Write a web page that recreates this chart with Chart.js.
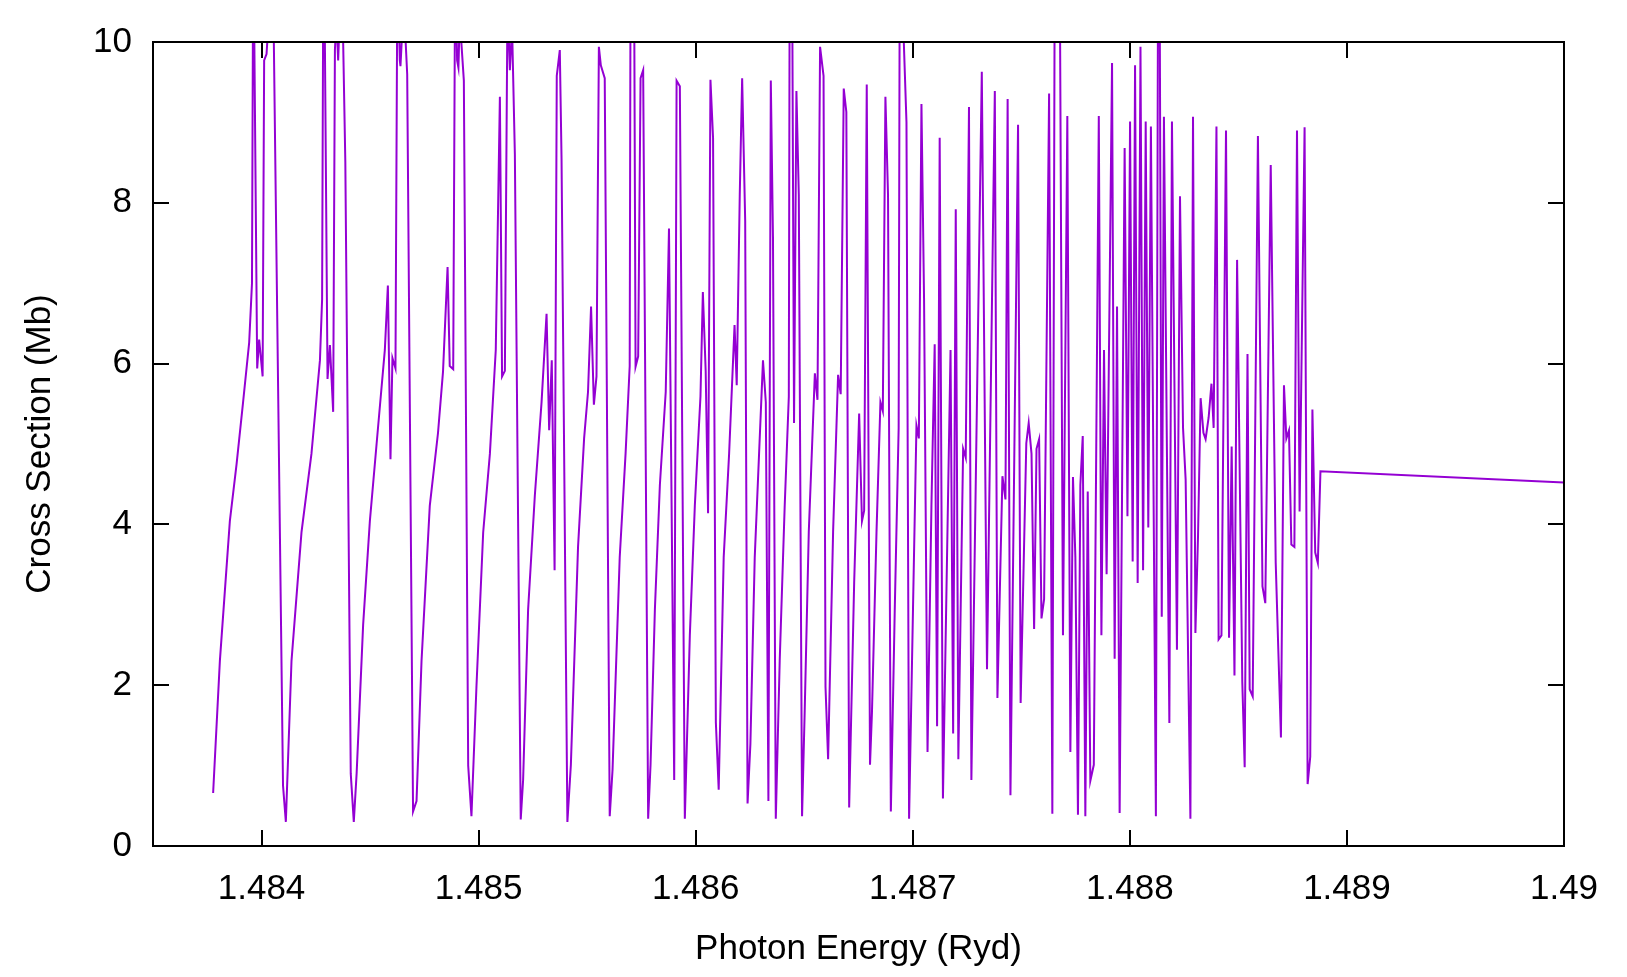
<!DOCTYPE html>
<html>
<head>
<meta charset="utf-8">
<title>Cross Section vs Photon Energy</title>
<script src="https://cdn.jsdelivr.net/npm/chart.js@4.4.1/dist/chart.umd.min.js"></script>
<style>
  html, body { margin: 0; padding: 0; background: #fff; }
  canvas { display: block; }
</style>
</head>
<body>
<canvas id="xsChart" width="1627" height="977"></canvas>
<script>
// ------------------------------------------------------------
// DATA (peaks above 10 run off the top)
// ------------------------------------------------------------
const energy = [
  1.483777, 1.483808, 1.483854, 1.483885, 1.483915, 1.483943, 1.483956, 1.483962, 1.48398, 1.483989,
  1.484005, 1.484012, 1.484023, 1.484038, 1.484053, 1.484099, 1.484112, 1.484138, 1.484184, 1.48423,
  1.484269, 1.484279, 1.484286, 1.484304, 1.484315, 1.48433, 1.484338, 1.484345, 1.484353, 1.484361,
  1.484374, 1.484386, 1.484411, 1.484425, 1.484438, 1.484468, 1.484499, 1.48453, 1.484568, 1.484582,
  1.484594, 1.484603, 1.484617, 1.484626, 1.484637, 1.48464, 1.484655, 1.484671, 1.484698, 1.484714,
  1.484737, 1.484775, 1.484813, 1.484836, 1.484857, 1.484867, 1.484883, 1.484892, 1.484901, 1.484907,
  1.484913, 1.484932, 1.484952, 1.484967, 1.48499, 1.485021, 1.485052, 1.485079, 1.485098, 1.485108,
  1.485121, 1.485133, 1.485144, 1.485154, 1.485167, 1.485194, 1.485205, 1.485228, 1.485259, 1.48529,
  1.485313, 1.485325, 1.485337, 1.48535, 1.48536, 1.485374, 1.485382, 1.485409, 1.485425, 1.485458,
  1.485486, 1.485504, 1.485518, 1.485531, 1.485543, 1.485554, 1.485563, 1.485581, 1.485604, 1.485617,
  1.48565, 1.485677, 1.485696, 1.4857, 1.485716, 1.485723, 1.485735, 1.485746, 1.485758, 1.485781,
  1.485792, 1.485812, 1.485835, 1.485862, 1.485877, 1.485901, 1.485912, 1.485927, 1.48595, 1.485973,
  1.485996, 1.486022, 1.486033, 1.486046, 1.486057, 1.486068, 1.48608, 1.486093, 1.486106, 1.486129,
  1.486154, 1.486169, 1.486179, 1.486189, 1.486203, 1.486214, 1.486228, 1.486239, 1.486252, 1.486272,
  1.486292, 1.48631, 1.486323, 1.486335, 1.486346, 1.486356, 1.486369, 1.486387, 1.48641, 1.486429,
  1.486433, 1.486444, 1.486453, 1.486464, 1.486475, 1.48649, 1.486502, 1.486521, 1.486549, 1.486561,
  1.486573, 1.486589, 1.486598, 1.48661, 1.486633, 1.486656, 1.486668, 1.486682, 1.486694, 1.486707,
  1.48673, 1.486753, 1.486766, 1.486776, 1.486788, 1.486803, 1.486812, 1.486833, 1.486851, 1.486862,
  1.486874, 1.486886, 1.486899, 1.486917, 1.486935, 1.48694, 1.486955, 1.486971, 1.486983, 1.487001,
  1.487017, 1.487028, 1.48704, 1.487052, 1.487068, 1.487086, 1.487101, 1.487112, 1.487124, 1.487139,
  1.487174, 1.487186, 1.487198, 1.48721, 1.487232, 1.487244, 1.487259, 1.48727, 1.487318, 1.487342,
  1.487378, 1.48739, 1.487413, 1.487427, 1.487437, 1.48745, 1.487485, 1.487497, 1.487523, 1.487534,
  1.487547, 1.487559, 1.48757, 1.487582, 1.487593, 1.487605, 1.487628, 1.487643, 1.487654, 1.487677,
  1.487692, 1.487712, 1.487726, 1.487738, 1.487749, 1.487761, 1.487772, 1.487783, 1.487795, 1.487806,
  1.487818, 1.487834, 1.487857, 1.487869, 1.487881, 1.487893, 1.487918, 1.48793, 1.487941, 1.487953,
  1.487976, 1.487989, 1.488001, 1.488013, 1.488024, 1.488036, 1.488049, 1.488061, 1.488073, 1.488085,
  1.488097, 1.48812, 1.48813, 1.488137, 1.488147, 1.488157, 1.488182, 1.488194, 1.488217, 1.488231,
  1.488245, 1.488257, 1.488279, 1.488291, 1.488302, 1.488314, 1.488326, 1.488339, 1.488349, 1.488363,
  1.488376, 1.488386, 1.488399, 1.488409, 1.488422, 1.488443, 1.488457, 1.488469, 1.488482, 1.488494,
  1.488518, 1.488529, 1.488542, 1.488552, 1.488566, 1.48859, 1.488611, 1.488624, 1.488649, 1.488672,
  1.488696, 1.48871, 1.488721, 1.488733, 1.488744, 1.488758, 1.48877, 1.488782, 1.488805, 1.488819,
  1.488831, 1.488841, 1.488854, 1.488866, 1.488878, 1.49
];

const crossSection = [
  0.66, 2.3, 4.04, 4.75, 5.52, 6.26, 7.0, 11.5, 5.94, 6.3,
  5.84, 9.77, 9.85, 10.5, 10.8, 0.75, 0.3, 2.3, 3.9, 4.88,
  6.04, 6.8, 12, 5.81, 6.23, 5.4, 9.9, 10.3, 9.77, 10.4,
  10.3, 8.5, 0.9, 0.3, 0.9, 2.75, 4.04, 5.0, 6.17, 6.97,
  4.81, 6.07, 5.94, 11, 9.77, 9.7, 10.5, 9.6, 0.43, 0.56,
  2.3, 4.23, 5.14, 5.9, 7.2, 5.97, 5.93, 11, 9.77, 9.68,
  10.3, 9.52, 1.0, 0.37, 1.98, 3.9, 4.88, 6.17, 9.32, 5.84,
  5.91, 10.5, 9.65, 10.2, 8.6, 0.33, 0.82, 2.94, 4.36, 5.52,
  6.62, 5.17, 6.04, 3.43, 9.58, 9.9, 8.55, 0.3, 1.01, 3.72,
  5.07, 5.65, 6.71, 5.49, 5.84, 9.94, 9.71, 9.55, 0.37, 0.95,
  3.59, 4.88, 5.97, 11, 11, 5.96, 6.09, 9.55, 9.65, 0.34,
  1.01, 2.94, 4.49, 5.65, 7.68, 0.82, 9.52, 9.45, 0.34, 2.62,
  4.23, 5.59, 6.89, 5.91, 4.14, 9.53, 8.81, 1.53, 0.7, 3.59,
  4.88, 5.84, 6.48, 5.73, 8.1, 9.55, 7.78, 0.53, 1.27, 3.59,
  4.88, 6.04, 5.52, 0.56, 9.52, 7.58, 0.34, 2.3, 4.23, 5.59,
  11, 11, 5.26, 9.39, 8.1, 0.37, 1.66, 3.91, 5.88, 5.55,
  9.94, 9.58, 1.98, 1.08, 3.91, 5.86, 5.62, 9.42, 9.13, 0.48,
  3.27, 5.38, 4.04, 4.17, 9.47, 1.01, 1.66, 3.91, 5.52, 5.41,
  9.32, 8.1, 0.43, 2.94, 5.2, 11, 10.3, 9.0, 0.34, 2.94,
  5.23, 5.07, 9.23, 6.81, 1.17, 4.23, 6.24, 1.49, 8.81, 0.59,
  6.17, 1.4, 7.92, 1.08, 4.94, 4.83, 9.19, 0.82, 9.63, 2.2,
  9.39, 1.84, 4.6, 4.31, 9.29, 0.63, 8.97, 1.78, 5.01, 5.26,
  4.88, 2.7, 4.94, 5.06, 2.83, 3.07, 9.36, 0.4, 11, 11,
  2.62, 9.08, 1.17, 4.59, 3.59, 0.39, 4.49, 5.1, 0.37, 4.41,
  0.81, 1.01, 9.08, 2.62, 6.17, 3.38, 9.74, 2.33, 6.71, 0.41,
  8.68, 4.1, 9.01, 3.54, 9.71, 3.27, 9.94, 3.43, 9.01, 3.96,
  8.95, 0.37, 11, 11, 2.85, 9.07, 1.53, 9.01, 2.44, 8.08,
  5.2, 4.56, 0.34, 9.07, 2.65, 3.85, 5.57, 5.14, 5.06, 5.33,
  5.75, 5.2, 8.95, 2.57, 2.62, 8.9, 2.59, 4.97, 2.12, 7.29,
  2.04, 0.98, 6.12, 1.95, 1.86, 8.83, 3.23, 3.02, 8.47, 3.52,
  1.35, 5.73, 5.07, 5.17, 3.75, 3.72, 8.9, 4.16, 8.94, 0.77,
  1.11, 5.43, 3.65, 3.52, 4.66, 4.52
];

const xTickValues = [1.484, 1.485, 1.486, 1.487, 1.488, 1.489, 1.49];
const yTickValues = [0, 2, 4, 6, 8, 10];

const X_MIN = 1.4835;
const X_MAX = 1.49;
const Y_MIN = 0;
const Y_MAX = 10;

const LINE_COLOR = '#9400d3';
const FONT = { family: "'Liberation Sans', Arial, sans-serif", size: 35 };

// ------------------------------------------------------------
// gnuplot-style border with inward (mirrored) tick marks
// ------------------------------------------------------------
const frameAndTicks = {
  id: 'frameAndTicks',
  afterDraw(chart) {
    const { ctx, chartArea: a, scales } = chart;
    const len = 16;
    ctx.save();
    ctx.strokeStyle = '#000';
    ctx.lineWidth = 2;
    ctx.beginPath();
    xTickValues.forEach(v => {
      const px = Math.round(scales.x.getPixelForValue(v));
      ctx.moveTo(px, a.bottom); ctx.lineTo(px, a.bottom - len);
      ctx.moveTo(px, a.top);    ctx.lineTo(px, a.top + len);
    });
    yTickValues.forEach(v => {
      const py = Math.round(scales.y.getPixelForValue(v));
      ctx.moveTo(a.left, py);  ctx.lineTo(a.left + len, py);
      ctx.moveTo(a.right, py); ctx.lineTo(a.right - len, py);
    });
    ctx.stroke();
    ctx.strokeRect(a.left, a.top, a.right - a.left, a.bottom - a.top);
    ctx.restore();
  }
};

const points = energy.map((e, i) => ({ x: e, y: crossSection[i] }));

new Chart(document.getElementById('xsChart'), {
  type: 'line',
  data: {
    datasets: [{
      data: points,
      borderColor: LINE_COLOR,
      borderWidth: 2,
      pointRadius: 0,
      tension: 0,
      fill: false
    }]
  },
  options: {
    responsive: false,
    animation: false,
    devicePixelRatio: 1,
    layout: { padding: { top: 42, right: 63, left: 0, bottom: 0 } },
    plugins: {
      legend: { display: false },
      tooltip: { enabled: false }
    },
    scales: {
      x: {
        type: 'linear',
        min: X_MIN,
        max: X_MAX,
        afterBuildTicks: scale => { scale.ticks = xTickValues.map(v => ({ value: v })); },
        afterFit: scale => { scale.height = 131; },
        grid: { display: false, drawTicks: false },
        border: { display: false },
        ticks: {
          color: '#000',
          font: FONT,
          padding: 22,
          maxRotation: 0,
          autoSkip: false,
          callback: v => String(+v.toFixed(3))
        },
        title: {
          display: true,
          text: 'Photon Energy (Ryd)',
          color: '#000',
          font: FONT,
          padding: { top: 0, bottom: 7 }
        }
      },
      y: {
        type: 'linear',
        min: Y_MIN,
        max: Y_MAX,
        afterBuildTicks: scale => { scale.ticks = yTickValues.map(v => ({ value: v })); },
        afterFit: scale => { scale.width = 153; },
        grid: { display: false, drawTicks: false },
        border: { display: false },
        ticks: {
          color: '#000',
          font: FONT,
          padding: 21,
          autoSkip: false
        },
        title: {
          display: true,
          text: 'Cross Section (Mb)',
          color: '#000',
          font: FONT,
          padding: { top: 19, bottom: 0 }
        }
      }
    }
  },
  plugins: [frameAndTicks]
});
</script>
</body>
</html>
